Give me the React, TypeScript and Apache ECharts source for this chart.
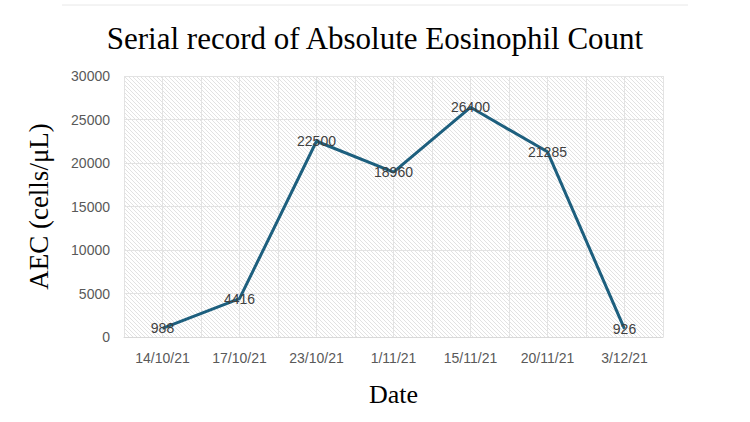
import React, { useEffect, useRef } from "react";
import * as echarts from "echarts";

const categories = ["14/10/21", "17/10/21", "23/10/21", "1/11/21", "15/11/21", "20/11/21", "3/12/21"];
const aecValues = [988, 4416, 22500, 18960, 26400, 21285, 926];
const halfSlots = ["a", "b", "c", "d", "e", "f", "g", "h", "i", "j", "k", "l", "m", "n"];

function makeHatch(): string {
  const c = document.createElement("canvas");
  c.width = 4;
  c.height = 4;
  const ctx = c.getContext("2d")!;
  ctx.fillStyle = "#ffffff";
  ctx.fillRect(0, 0, 4, 4);
  ctx.strokeStyle = "#e2e2e2";
  ctx.lineWidth = 1;
  ctx.beginPath();
  ctx.moveTo(-1, -1);
  ctx.lineTo(5, 5);
  ctx.moveTo(-1, 3);
  ctx.lineTo(1, 5);
  ctx.moveTo(3, -1);
  ctx.lineTo(5, 1);
  ctx.stroke();
  return c.toDataURL();
}

export default function App() {
  const ref = useRef<HTMLDivElement>(null);
  useEffect(() => {
    if (!ref.current) return;
    const chart = echarts.init(ref.current, null, { renderer: "svg" });
    const hatch = makeHatch();
    chart.setOption({
      animation: false,
      backgroundColor: "#ffffff",
      title: {
        text: "Serial record of Absolute Eosinophil Count",
        left: "center",
        top: 18,
        textStyle: { fontFamily: "Liberation Serif", fontSize: 31, fontWeight: "normal", color: "#000" },
      },
      graphic: [
        { type: "line", shape: { x1: 62, y1: 5, x2: 688, y2: 5 }, style: { stroke: "#e8e8e8", lineWidth: 1 } },
      ],
      grid: {
        left: 124,
        top: 76,
        width: 539,
        height: 261,
        show: true,
        borderWidth: 0,
        backgroundColor: { image: hatch, repeat: "repeat" },
      },
      xAxis: [
        {
          type: "category",
          data: categories,
          boundaryGap: true,
          name: "Date",
          nameLocation: "middle",
          nameGap: 44,
          nameTextStyle: { fontFamily: "Liberation Serif", fontSize: 26, color: "#000" },
          axisLine: { lineStyle: { color: "#d9d9d9", width: 1 } },
          axisTick: { show: false },
          axisLabel: { color: "#595959", fontSize: 14, fontFamily: "Liberation Sans", margin: 14 },
          splitLine: { show: false },
        },
        {
          type: "category",
          data: halfSlots,
          boundaryGap: true,
          position: "bottom",
          axisLine: { show: false },
          axisTick: { show: false },
          axisLabel: { show: false },
          splitLine: { show: true, lineStyle: { color: "#e3e3e3", width: 1 } },
        },
      ],
      yAxis: {
        type: "value",
        min: 0,
        max: 30000,
        interval: 5000,
        name: "AEC (cells/μL)",
        nameLocation: "middle",
        nameGap: 72,
        nameTextStyle: { fontFamily: "Liberation Serif", fontSize: 27, color: "#000" },
        axisLine: { show: false },
        axisTick: { show: false },
        axisLabel: {
          color: "#595959",
          fontSize: 14,
          fontFamily: "Liberation Sans",
          margin: 14,
          formatter: (v: number) => String(v),
        },
        splitLine: { show: true, lineStyle: { color: "#e3e3e3", width: 1 } },
      },
      series: [
        {
          type: "line",
          data: aecValues,
          xAxisIndex: 0,
          symbol: "circle",
          symbolSize: 1,
          showSymbol: true,
          itemStyle: { color: "rgba(0,0,0,0)" },
          lineStyle: { color: "#1d5f7e", width: 3 },
          label: {
            show: true,
            position: "inside",
            color: "#404040",
            fontSize: 14,
            fontFamily: "Liberation Sans",
          },
        },
      ],
    });
    return () => chart.dispose();
  }, []);
  return <div ref={ref} style={{ position: "fixed", left: 0, top: 0, width: 750, height: 422 }} />;
}
